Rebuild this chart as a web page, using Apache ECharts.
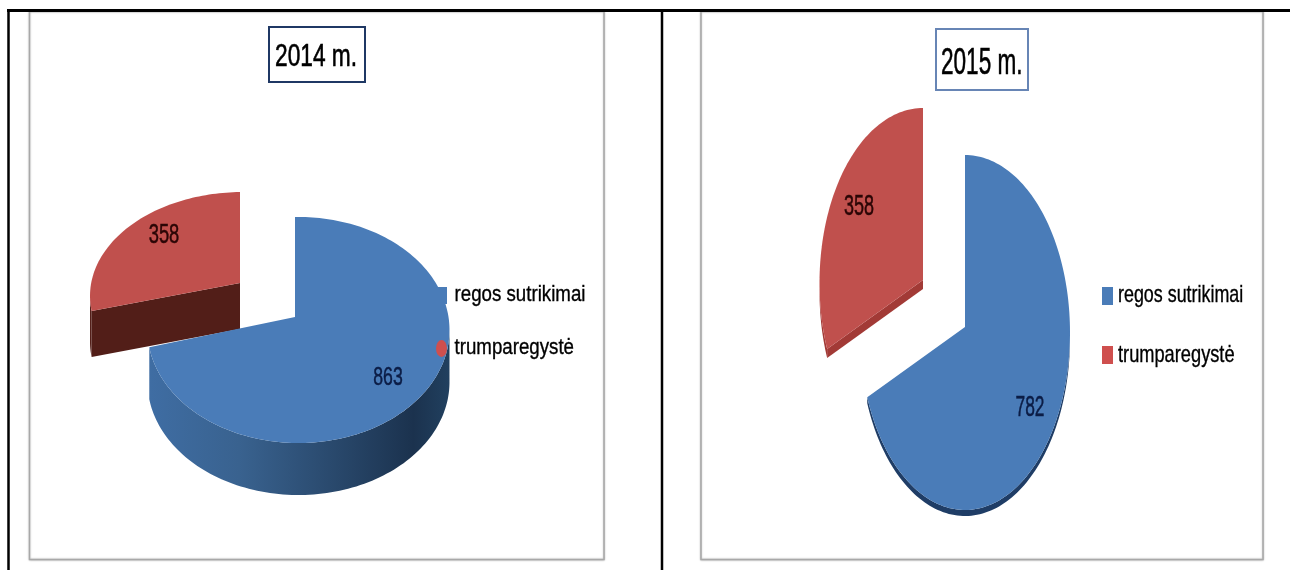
<!DOCTYPE html>
<html><head><meta charset="utf-8">
<style>html,body{margin:0;padding:0;background:#fff}#c{width:1290px;height:570px}</style>
<script src="https://cdn.jsdelivr.net/npm/echarts@6/dist/echarts.min.js"></script>
</head><body><div id="c"></div>
<script>
const categories = ['regos sutrikimai', 'trumparegystė'];
const years = ['2014 m.', '2015 m.'];
const values2014 = [863, 358];
const values2015 = [782, 358];

const FONT = '"Liberation Sans",sans-serif';
const BLUE = '#4a7cb8', RED = '#c0504d';

const sideBlue2014 = {type:'linear',x:0,y:0,x2:1,y2:0,colorStops:[
  {offset:0,color:'#3f6da3'},{offset:.3,color:'#39628f'},{offset:.6,color:'#2a4a6e'},{offset:.88,color:'#1b324e'},{offset:1,color:'#21405f'}]};

const shapes = {
  blue14:{ax:295,ay:317,cx:298.5,cy:330,rx:151,ry:113,depth:52,side:sideBlue2014,cut:null,lx:388,ly:378,lc:'#0b1c45',fs:26,sx:.68},
  red14: {ax:240,ay:283,cx:243,cy:296,rx:153,ry:104,depth:46,side:'#521e18',cut:'#521e18',lx:164,ly:236,lc:'#2a0505',fs:27,sx:.68},
  blue15:{ax:965,ay:327,cx:965,cy:332.5,rx:105,ry:177.5,depth:6,side:'#1f3d66',cut:null,lx:1030,ly:408,lc:'#0b1c45',fs:29,sx:.6},
  red15: {ax:923,ay:280,cx:923,cy:283,rx:103.5,ry:175,depth:9,side:'#a23a36',cut:'#a23a36',lx:859,ly:207,lc:'#2a0505',fs:30,sx:.6}
};

// ray from the apex, in the direction given by the angle, meets the tilted ellipse
function pt(s,deg){
  const t=deg*Math.PI/180;
  const dx=Math.sin(t)*s.rx, dy=-Math.cos(t)*s.ry;
  const ox=(s.ax-s.cx)/s.rx, oy=(s.ay-s.cy)/s.ry, ux=dx/s.rx, uy=dy/s.ry;
  const A=ux*ux+uy*uy, B=2*(ox*ux+oy*uy), C=ox*ox+oy*oy-1;
  const k=(-B+Math.sqrt(B*B-4*A*C))/(2*A);
  return [s.ax+dx*k, s.ay+dy*k];
}
function arc(s,a,b){
  const out=[], n=Math.max(2,Math.ceil(Math.abs(b-a)/1.5));
  for(let i=0;i<=n;i++) out.push(pt(s,a+(b-a)*i/n));
  return out;
}
function sliceSeries(name,color,values,index,key,z){
  const total=values.reduce((p,c)=>p+c,0);
  return {
    type:'custom',name,coordinateSystem:'none',z,silent:true,
    itemStyle:{color},
    data:[{name,value:values[index]}],
    renderItem:function(params,api){
      const s=shapes[key], val=api.value(0);
      let before=0; for(let i=0;i<index;i++) before+=values[i];
      const a=before/total*360, b=a+val/total*360;
      const children=[];
      const top=arc(s,a,b).filter(p=>p[1]>=s.cy);
      if(top.length>1){
        const bottom=top.map(p=>[p[0],p[1]+s.depth]).reverse();
        children.push({type:'polygon',shape:{points:top.concat(bottom)},style:{fill:s.side}});
      }
      if(s.cut){
        const e=pt(s,a);
        children.push({type:'polygon',shape:{points:[[s.ax,s.ay],e,[e[0],e[1]+s.depth],[s.ax,s.ay+s.depth]]},style:{fill:s.cut}});
      }
      children.push({type:'polygon',shape:{points:[[s.ax,s.ay]].concat(arc(s,a,b))},style:{fill:color}});
      children.push({type:'text',x:s.lx,y:s.ly,scaleX:s.sx,style:{x:0,y:0,text:String(val),fill:s.lc,stroke:s.lc,lineWidth:.5,font:s.fs+'px '+FONT,textAlign:'center',textVerticalAlign:'middle'}});
      return {type:'group',children};
    }
  };
}
function panel(x,y,w,h){
  return {type:'rect',z:0,shape:{x,y,width:w,height:h},style:{fill:'#fff',stroke:'#a8a8a8',lineWidth:1.5,shadowColor:'rgba(0,0,0,.25)',shadowBlur:2}};
}
function rule(x1,y1,x2,y2,w){
  return {type:'line',z:1,shape:{x1,y1,x2,y2},style:{stroke:'#000',lineWidth:w}};
}
function box(x,y,w,h,border){
  return {type:'rect',z:9,shape:{x,y,width:w,height:h},style:{fill:'#fff',stroke:border,lineWidth:2}};
}
function label(text,x,y,size,sx,heavy){
  return {type:'text',z:10,x,y,scaleX:sx,style:{x:0,y:0,text,fill:'#000',stroke:'#000',lineWidth:heavy,font:size+'px '+FONT,textAlign:'left',textVerticalAlign:'middle'}};
}
function legendOf(left,top,h,gap,secondIcon){
  return {orient:'vertical',left,top,padding:0,itemWidth:11,itemHeight:h,itemGap:gap,selectedMode:false,z:10,
    symbolKeepAspect:false,
    formatter:()=>'',
    data:[{name:categories[0],icon:'rect',itemStyle:{color:BLUE}},{name:categories[1],icon:secondIcon,itemStyle:{color:'#cf4f4e'}}]};
}
const ELLIPSE='path://M0 50A50 50 0 1 1 100 50A50 50 0 1 1 0 50Z';
const chart=echarts.init(document.getElementById('c'),null,{renderer:'canvas'});
chart.setOption({
  animation:false,
  backgroundColor:'#fff',
  graphic:[
    panel(29.5,11.5,574.5,548),
    panel(701,11.5,562,548),
    rule(7,10.5,1290,10.5,3),
    rule(8.5,10,8.5,570,2.5),
    rule(662,10,662,570,2.5),
    box(269,27,96,55,'#1f3864'),
    box(936,29,92,61,'#6785b5'),
    label(years[0],275,57,32,.71,.6),
    label(years[1],941,64,37,.61,.6),
    label(categories[0],454.5,295,22,.85,.35),
    label(categories[1],454.5,348,22,.85,.35),
    label(categories[0],1118,295,24,.745,.35),
    label(categories[1],1118,355,24,.76,.35)
  ],
  legend:[
    legendOf(436,287,17,36,ELLIPSE),
    legendOf(1102,287,18,41,'rect')
  ],
  series:[
    sliceSeries(categories[0],BLUE,values2014,0,'blue14',4),
    sliceSeries(categories[1],RED,values2014,1,'red14',3),
    sliceSeries(categories[0],BLUE,values2015,0,'blue15',4),
    sliceSeries(categories[1],RED,values2015,1,'red15',3)
  ]
});
</script></body></html>
